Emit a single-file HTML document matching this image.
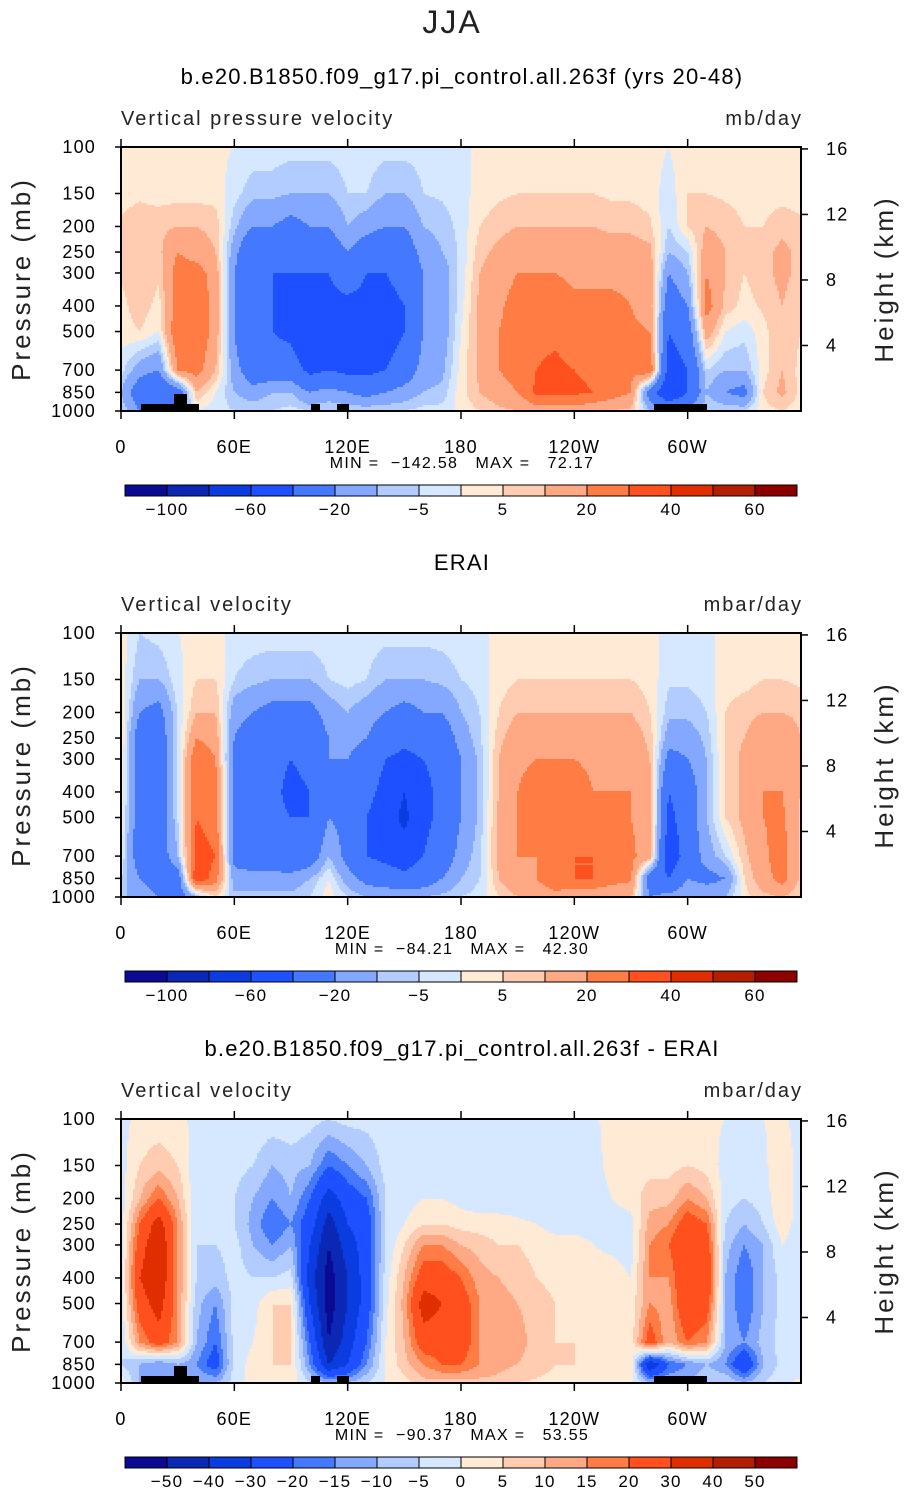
<!DOCTYPE html>
<html><head><meta charset="utf-8"><style>
html,body{margin:0;padding:0;background:#fff;}
svg{display:block;font-family:"Liberation Sans",sans-serif;}
</style></head><body>
<svg id="fig" width="905" height="1493" viewBox="0 0 905 1493" xmlns="http://www.w3.org/2000/svg">
<text x="452" y="33" text-anchor="middle" font-size="32" font-weight="300" fill="#222" style="letter-spacing:2px">JJA</text>
</svg>
<script>
const lons=[0,10,20,30,40,50,60,70,80,90,100,110,120,130,140,150,160,170,180,190,200,210,220,230,240,250,260,270,280,290,300,310,320,330,340,350,360];
const plevs=[100,150,200,250,300,400,500,700,850,1000];
const levelsA=[-100,-80,-60,-40,-20,-10,-5,0,5,10,20,30,40,50,60];
const levelsD=[-50,-40,-30,-20,-15,-10,-5,0,5,10,15,20,30,40,50];
const colors=["#0a0a92","#0a28b4","#0a3ce0","#1e50ff","#4478ff","#84a8ff","#b2ccff","#d6e8ff","#ffead6","#ffccb2","#ffa884","#ff7c44","#ff501e","#e02e00","#b41e00","#8c0000"];
const leftTicks=[100,150,200,250,300,400,500,700,850,1000];
const rightTicks=[16,12,8,4];
const xTickLabels=["0","60E","120E","180","120W","60W"];
const xTickLons=[0,60,120,180,240,300];
const model=[
[3,3,6,8,6,3,3,-3,-10,-5],[3,4,8,10,10,8,5,-15,-30,-20],[2,3,8,8,6,3,0,-20,-40,-30],[1,3,10,20,25,25,30,20,-30,-20],[1,3,10,15,25,30,30,25,10,0],[1,3,8,10,15,15,15,10,0,-3],
[0,-3,-8,-15,-20,-20,-20,-15,-10,-5],[-2,-8,-20,-40,-40,-40,-40,-30,-15,-5],[-2,-8,-20,-40,-40,-40,-40,-30,-10,-5],[-3,-10,-25,-40,-40,-45,-45,-30,-10,-3],[-3,-10,-20,-30,-40,-50,-60,-45,-20,-5],[-3,-10,-20,-30,-40,-45,-50,-40,-15,-5],
[-2,-5,-10,-20,-30,-45,-50,-45,-20,-5],[-2,-5,-15,-30,-40,-45,-55,-45,-25,-5],[-3,-10,-20,-35,-40,-45,-50,-40,-20,-5],[-3,-10,-20,-30,-35,-40,-40,-30,-15,-5],[-3,-5,-10,-15,-20,-20,-20,-15,-10,-3],[-2,-4,-8,-10,-15,-15,-15,-12,-8,-3],
[-1,-2,-3,-4,-3,-2,0,2,3,2],[1,2,5,8,10,12,12,12,10,5],[2,4,8,12,15,18,20,20,15,8],[2,5,10,15,20,25,25,25,20,10],[2,5,10,15,20,25,28,30,32,15],[2,5,10,15,20,25,28,32,32,15],
[2,5,10,15,18,22,25,30,32,15],[2,5,10,15,18,22,25,28,30,12],[2,4,8,15,18,22,23,25,25,10],[2,4,8,15,18,20,22,22,20,8],[2,3,6,12,15,15,20,30,-30,-10],[0,-3,-5,-10,-20,-30,-40,-50,-60,-20],
[3,5,5,-5,-10,-20,-30,-40,-40,-15],[2,5,10,15,20,25,15,-5,-10,-5],[2,4,8,10,10,8,0,-10,-20,-5],[2,3,5,6,5,3,-3,-10,-25,-5],[2,3,5,8,8,6,3,3,5,3],[2,3,8,12,12,10,10,10,12,5],[2,3,6,8,8,5,5,3,3,2]];
const erai=[
[3,3,6,6,5,5,3,0,-5,-10],[-5,-10,-20,-30,-30,-30,-30,-30,-20,-10],[-3,-10,-25,-30,-30,-30,-30,-30,-30,-20],[0,-2,-4,-5,-5,-5,-5,-10,-30,-30],[1,5,10,20,30,30,30,35,40,-10],[2,5,10,15,20,25,25,30,25,5],
[-2,-5,-15,-20,-25,-25,-25,-25,-15,-8],[-2,-8,-20,-30,-35,-35,-35,-30,-15,-8],[-2,-10,-25,-35,-35,-35,-35,-30,-15,-8],[-2,-10,-25,-35,-40,-45,-40,-35,-15,-8],[-2,-10,-25,-30,-35,-40,-40,-30,-10,-5],[-2,-5,-15,-20,-20,-20,-20,-10,0,3],
[-1,-3,-10,-15,-20,-25,-25,-25,-15,-5],[-2,-5,-15,-20,-30,-35,-40,-40,-25,-10],[-3,-10,-20,-30,-40,-45,-50,-45,-30,-10],[-3,-10,-25,-35,-45,-60,-65,-50,-35,-10],[-3,-10,-20,-30,-40,-45,-45,-40,-30,-10],[-3,-8,-20,-30,-35,-35,-35,-30,-20,-8],
[-2,-5,-10,-15,-20,-20,-20,-15,-10,-5],[-1,-3,-5,-6,-8,-8,-8,-6,-5,-3],[1,3,5,8,10,10,12,12,10,5],[2,5,10,15,18,20,20,20,18,10],[2,5,10,15,20,25,22,20,20,12],[2,5,10,15,20,28,25,25,30,15],
[2,5,10,15,20,25,25,30,30,12],[2,5,10,15,18,20,25,30,30,12],[2,5,10,15,18,20,22,25,25,10],[2,5,10,15,18,20,20,22,22,10],[2,3,5,8,10,12,15,15,-30,-20],[-2,-4,-8,-15,-25,-40,-45,-55,-40,-15],
[-2,-4,-8,-15,-20,-30,-30,-30,-20,-10],[-1,-3,-5,-8,-10,-10,-10,-15,-25,-10],[1,3,5,6,6,6,5,-5,-20,-10],[2,3,8,10,12,12,12,8,5,3],[2,5,10,15,18,20,20,18,15,8],[2,5,10,18,20,20,22,25,25,10],[2,4,8,10,10,10,8,8,8,5]];
const diff=[
[-2,-2,-3,-3,-3,-3,-3,-5,-5,3],[2,5,10,20,25,30,25,15,-10,-10],[2,8,20,35,40,40,35,25,-15,-15],[1,5,10,15,15,15,15,15,-10,-10],[-1,-3,-5,-5,-5,-5,-8,-10,-15,-10],[-1,-2,-4,-5,-5,-8,-15,-20,-25,-10],
[0,-3,-5,-5,-3,-3,-3,-3,-3,-3],[-1,-5,-10,-12,-10,-5,-2,0,2,3],[-2,-10,-15,-20,-15,-5,5,5,5,3],[-1,-8,-10,-15,-10,-3,5,5,5,3],[-3,-10,-20,-25,-30,-35,-30,-20,-15,-5],[-5,-20,-35,-45,-50,-55,-55,-50,-40,-10],
[-3,-15,-25,-30,-35,-40,-40,-35,-30,-10],[-3,-10,-20,-25,-25,-25,-25,-20,-15,-5],[-2,-3,-5,-5,-5,-3,-2,0,0,0],[-2,-3,-3,0,5,10,12,10,8,3],[-2,-3,0,5,15,25,35,25,15,8],[-2,-3,0,5,15,25,30,25,20,8],
[-2,-3,-2,3,10,20,25,25,20,8],[-2,-3,-3,2,8,12,15,15,15,8],[-2,-3,-3,2,5,10,12,12,12,8],[-2,-3,-3,1,5,8,10,12,10,5],[-2,-3,-3,0,3,5,8,8,8,4],[-2,-3,-3,-2,2,3,5,5,5,3],
[-2,-3,-3,-2,2,3,4,5,5,3],[-1,-2,-3,-2,0,2,3,3,3,2],[2,2,0,-2,-1,2,3,3,3,2],[2,3,2,-2,-2,0,2,2,3,2],[1,3,8,12,15,15,15,25,-40,-10],[1,3,8,15,20,15,12,10,-20,-10],
[1,5,15,25,30,30,30,20,-15,-10],[1,3,10,20,25,30,25,15,-10,-5],[0,-2,-3,-5,-8,-10,-10,-10,-15,-5],[0,-2,-5,-10,-15,-20,-20,-15,-30,-10],[0,-1,-3,-5,-10,-10,-10,-8,-10,-5],[1,3,5,3,0,-3,-3,-3,-3,-2],[-2,-2,-3,-3,-3,-3,-3,-5,-5,2]];

const NS="http://www.w3.org/2000/svg";
const svg=document.getElementById('fig');
function el(tag,attrs,parent){const e=document.createElementNS(NS,tag);for(const k in attrs)e.setAttribute(k,attrs[k]);(parent||svg).appendChild(e);return e;}
const X0=121,X1=801,PH=264;
function xs(lon){return X0+(X1-X0)*lon/360;}
function ys(p,top){return top+PH*Math.log10(p/100);}
function ysKm(h,top){const p=1000*Math.exp(-h/7.0);return ys(p,top);}
function sample(f,lon,lp){
  let i=Math.min(Math.floor(lon/10),35);let tx=(lon-lons[i])/10;
  let j=0;while(j<plevs.length-2&&Math.log10(plevs[j+1])<lp)j++;
  const a=Math.log10(plevs[j]),b=Math.log10(plevs[j+1]);let ty=(lp-a)/(b-a);ty=Math.max(0,Math.min(1,ty));
  const v00=f[i][j],v10=f[i+1][j],v01=f[i][j+1],v11=f[i+1][j+1];
  return (v00*(1-tx)+v10*tx)*(1-ty)+(v01*(1-tx)+v11*tx)*ty;
}
function levelIdx(v,lev){let k=0;while(k<lev.length&&v>=lev[k])k++;return k;}

const panels=[
 {top:147,title:"b.e20.B1850.f09_g17.pi_control.all.263f (yrs 20-48)",left:"Vertical pressure velocity",right:"mb/day",data:model,lev:levelsA,minmax:"MIN =  \u2212142.58   MAX =   72.17",topo:true,cbl:[-100,-60,-20,-5,5,20,40,60],cbi:[1,3,5,7,9,11,13,15]},
 {top:633,title:"ERAI",left:"Vertical velocity",right:"mbar/day",data:erai,lev:levelsA,minmax:"MIN =  \u221284.21   MAX =   42.30",topo:false,cbl:[-100,-60,-20,-5,5,20,40,60],cbi:[1,3,5,7,9,11,13,15]},
 {top:1119,title:"b.e20.B1850.f09_g17.pi_control.all.263f - ERAI",left:"Vertical velocity",right:"mbar/day",data:diff,lev:levelsD,minmax:"MIN =  \u221290.37   MAX =   53.55",topo:true,cbl:levelsD,cbi:[1,2,3,4,5,6,7,8,9,10,11,12,13,14,15]}
];
panels.forEach((P,pi)=>{
  const g=el('g',{});
  
  
  const T=P.top;
  const t=el('text',{x:462,y:T-63,'text-anchor':'middle','font-size':22,fill:'#000','letter-spacing':'1.2'},g);t.textContent=P.title;
  
  const l=el('text',{x:121,y:T-22,'font-size':20,fill:'#222','letter-spacing':'2'},g);l.textContent=P.left;
  
  const r=el('text',{x:803,y:T-22,'text-anchor':'end','font-size':20,fill:'#222','letter-spacing':'2'},g);r.textContent=P.right;
  
  const fg=el('g',{'shape-rendering':'crispEdges'},g);
  
  const dx=2,dy=2;
  for(let y=T;y<T+PH;y+=dy){
    const lp=2+((y+dy/2-T)/PH);
    let runStart=X0,runK=-1;
    for(let x=X0;x<=X1;x+=dx){
      let k=-2;
      if(x<X1){const lon=(x+dx/2-X0)/(X1-X0)*360;k=levelIdx(sample(P.data,lon,lp),P.lev);}
      if(k!==runK){
        if(runK>=0){const rc=el('rect',{x:runStart,y:y,width:x-runStart,height:Math.min(dy,T+PH-y),fill:colors[runK]},fg);
          }
        runStart=x;runK=k;
      }
    }
  }
  if(P.topo){
    const tg=el('g',{fill:'#000'},g);
    [[141,404,58,8],[174,394,13,10],[311,404,9,8],[337,404,12,8],[654,404,53,8]].forEach(a=>el('rect',{x:a[0],y:a[1]+(T-147),width:a[2],height:a[3]},tg));
  }
  const fr=el('rect',{x:X0,y:T,width:X1-X0,height:PH,fill:'none',stroke:'#000','stroke-width':2},g);
  
  leftTicks.forEach(p=>{const y=ys(p,T);el('line',{x1:X0-6,x2:X0,y1:y,y2:y,stroke:'#000','stroke-width':1.5},g);
    const tx=el('text',{x:96,y:y+6,'text-anchor':'end','font-size':18,fill:'#000','letter-spacing':'1.2'},g);tx.textContent=p;
    });
  rightTicks.forEach(h=>{const y=ysKm(h,T);el('line',{x1:X1,x2:X1+7,y1:y,y2:y,stroke:'#000','stroke-width':1.5},g);
    const tx=el('text',{x:X1+25,y:y+6,'text-anchor':'start','font-size':18,fill:'#000','letter-spacing':'1.2'},g);tx.textContent=h;
    });
  xTickLons.forEach((lo,i)=>{const x=xs(lo);
    el('line',{x1:x,x2:x,y1:T+PH,y2:T+PH+8,stroke:'#000','stroke-width':1.5},g);
    el('line',{x1:x,x2:x,y1:T,y2:T-8,stroke:'#000','stroke-width':1.5},g);
    const tx=el('text',{x:x,y:T+PH+42,'text-anchor':'middle','font-size':18,fill:'#000','letter-spacing':'1.2'},g);tx.textContent=xTickLabels[i];
    });
  const yl=el('text',{transform:`translate(30,${T+132}) rotate(-90)`,'text-anchor':'middle','font-size':26,fill:'#222','letter-spacing':'3'},g);yl.textContent="Pressure (mb)";
  
  const yr=el('text',{transform:`translate(893,${T+132}) rotate(-90)`,'text-anchor':'middle','font-size':26,fill:'#222','letter-spacing':'3'},g);yr.textContent="Height (km)";
  
  const mm=el('text',{x:462,y:T+321,'text-anchor':'middle','font-size':16,fill:'#000','letter-spacing':'1.3'},g);mm.textContent=P.minmax;mm.setAttribute('style','white-space:pre');
  
  const cb=el('g',{},g);
  const cy=T+338;
  colors.forEach((c,i)=>{const rc=el('rect',{x:125+42*i,y:cy,width:42,height:11,fill:c,stroke:'#000','stroke-width':1},cb);
    });
  P.cbi.forEach((bi,i)=>{const tx=el('text',{x:125+42*bi,y:cy+30,'text-anchor':'middle','font-size':17,fill:'#000','letter-spacing':'1.2'},cb);
    tx.textContent=String(P.cbl[i]).replace('-','\u2212');
    });
});
</script>
</body></html>
